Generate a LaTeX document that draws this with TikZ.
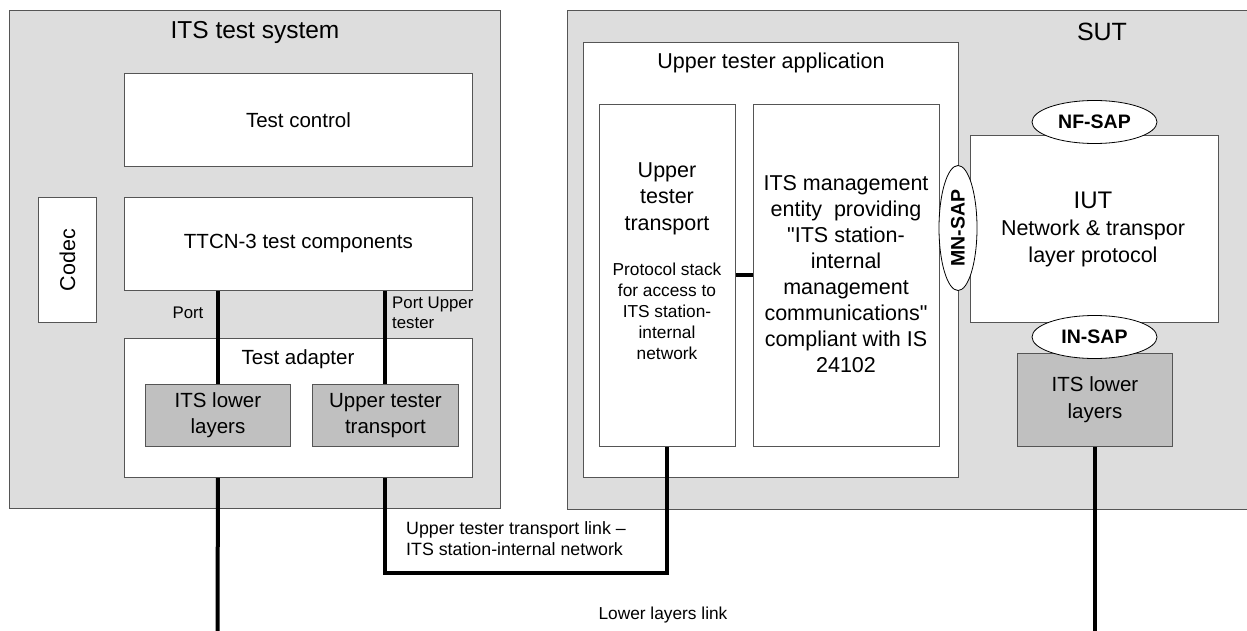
\documentclass[tikz,border=0pt]{standalone}
\usepackage{fontspec}
\setmainfont{Liberation Sans}[Ligatures=TeXOff]
\usetikzlibrary{shapes.geometric}
\definecolor{bggray}{HTML}{DDDDDD}
\definecolor{boxgray}{HTML}{C0C0C0}
\definecolor{edgecol}{HTML}{555555}
\newcommand{\fs}[2]{\fontsize{#1}{#2}\selectfont}
\begin{document}
\begin{tikzpicture}[x=1pt,y=-1pt,
  outerbox/.style={draw=edgecol, line width=1pt, fill=bggray, anchor=north west, inner sep=0pt},
  whitebox/.style={draw=edgecol, line width=0.9pt, fill=white, anchor=north west, inner sep=0pt, align=center},
  graybox/.style={draw=edgecol, line width=0.9pt, fill=boxgray, anchor=north west, inner sep=0pt, align=center},
  sap/.style={ellipse, draw=black, line width=0.8pt, fill=white, inner sep=0pt, font=\bfseries\fs{19.5}{22}},
  txt/.style={inner sep=0pt, align=center},
  link/.style={line width=4pt, black, line cap=butt, line join=miter}]
\useasboundingbox (0,0) rectangle (1247,631);
\fill[white] (0,0) rectangle (1247,631);
% outer areas
\node[outerbox, minimum width=491, minimum height=498] (tsys) at (9,10) {};
\node[outerbox, minimum width=700, minimum height=499] (sut) at (567,10) {};
\node[txt, font=\fs{24.5}{28}] (tsystitle) at (255,32) {ITS test system};
\node[txt, font=\fs{25}{28}] (suttitle) at (1102,32) {SUT};
% test system
\node[whitebox, minimum width=348, minimum height=93, font=\fs{20.5}{25}] (tctrl) at (124,73) {Test control};
\node[whitebox, minimum width=348, minimum height=93, font=\fs{20.5}{25}] (ttcn) at (124,197) {TTCN-3 test components};
\node[whitebox, minimum width=58, minimum height=125] (codec) at (38,197) {};
\node[txt, rotate=90, font=\fs{21.5}{25}] (codectext) at (codec.center) {Codec};
\node[whitebox, minimum width=348, minimum height=139] (adapter) at (124,338) {};
\node[txt, font=\fs{20.5}{25}] (adaptertext) at (298,359) {Test adapter};
\node[graybox, minimum width=145, minimum height=62, font=\fs{20.5}{26}] (lll) at (145,384) {ITS lower\\layers};
\node[graybox, minimum width=146, minimum height=62, font=\fs{20.5}{26}] (uttl) at (312,384) {Upper tester\\transport};
\node[txt, font=\fs{16.8}{20}] (portlabel) at (188,313) {Port};
\node[txt, anchor=west, align=left, font=\fs{16.8}{20}] (portuplabel) at (392,313) {Port Upper\\tester};
% SUT
\node[whitebox, minimum width=375, minimum height=435] (uta) at (583,42) {};
\node[txt, font=\fs{21.5}{26}] (utatext) at (771,63) {Upper tester application};
\node[whitebox, minimum width=136, minimum height=342] (uttr) at (599,104) {};
\node[txt, font=\fs{21.5}{26.5}] (uttrtext) at (667,198.5) {Upper\\tester\\transport};
\node[txt, font=\fs{17.3}{21}] (stacktext) at (667,311) {Protocol stack\\for access to\\ITS station-\\internal\\network};
\node[whitebox, minimum width=186, minimum height=342] (mgmt) at (753,104) {};
\node[txt, font=\fs{21.5}{26}] (mgmttext) at (846,274) {ITS management\\entity\ \ providing\\"ITS station-\\internal\\management\\communications"\\compliant with IS\\24102};
\node[whitebox, minimum width=248, minimum height=187] (iut) at (970,135) {};
\node[txt, font=\fs{24}{28}] (iuttext) at (1093,200) {IUT};
\node[txt, font=\fs{21.5}{27}] (iutsub) at (1093,243.5) {Network \& transpor\\layer protocol};
\node[graybox, minimum width=155, minimum height=93, font=\fs{20.5}{27}] (llr) at (1017,353) {ITS lower\\layers};
\node[sap, minimum width=125, minimum height=43] (nfsap) at (1094.5,122) {NF-SAP};
\node[sap, minimum width=125, minimum height=43] (insap) at (1094.5,337) {IN-SAP};
\node[sap, rotate=90, minimum width=125, minimum height=38] (mnsap) at (958,228) {MN-SAP};
% connector coordinates
\coordinate (botL) at (217.5,631);
\coordinate (linkY) at (0,573);
\coordinate (stackY) at (0,275);
% connectors
\draw[link] (lll.north |- ttcn.south) -- (lll.north);
\draw[link] (uttl.north |- ttcn.south) -- (uttl.north);
\draw[link] (lll.north |- adapter.south) -- (botL);
\draw[link] (uttl.south |- adapter.south) -- (uttl.south |- linkY) -- (uttr.south |- linkY) -- (uttr.south);
\draw[link] (llr.south) -- (llr.south |- botL);
\draw[link] (uttr.east |- stackY) -- (mgmt.west |- stackY);
% link labels
\node[txt, anchor=west, align=left, font=\fs{17.8}{21}] (utlinklabel) at (406,538.5) {Upper tester transport link –\\ITS station-internal network};
\node[txt, font=\fs{17.3}{21}] (lllinklabel) at (663,615) {Lower layers link};
\end{tikzpicture}
\end{document}
